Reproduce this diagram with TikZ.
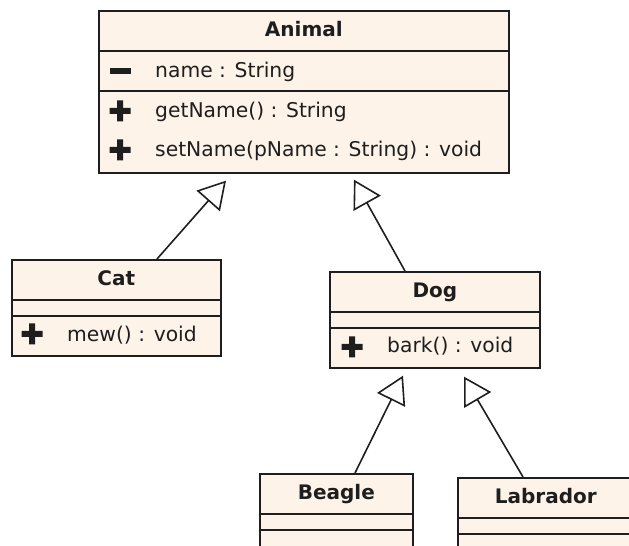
\documentclass[tikz,border=0pt]{standalone}
\usepackage{fontspec}
\setmainfont{DejaVu Sans}
\usetikzlibrary{arrows.meta}

\definecolor{classfill}{RGB}{253,243,233}
\definecolor{classline}{RGB}{30,30,30}

\begin{document}
\begin{tikzpicture}[x=1pt, y=1pt,
    umlclass/.style={draw=classline, fill=classfill, line width=1.7pt, anchor=north west, inner sep=0pt},
    classname/.style={font=\fontsize{20}{24}\selectfont\bfseries, text=classline, anchor=base, inner sep=0pt},
    member/.style={font=\fontsize{20.3}{24}\selectfont, text=classline, anchor=base west, inner sep=0pt},
    divider/.style={draw=classline, line width=1.5pt},
    inherit/.style={draw=classline, line width=1.6pt, -{Triangle[open, length=27pt, width=31pt]}},
    pubmark/.pic={\fill[classline] (-10.5,-3) rectangle (10.5,3) (-3,-10.5) rectangle (3,10.5);},
    privmark/.pic={\fill[classline] (-10.5,-3) rectangle (10.5,3);}
  ]
  \useasboundingbox (0,0) rectangle (629,546);
  \clip (0,0) rectangle (629,546);

  % classes
  \node[umlclass, minimum width=410pt, minimum height=162pt] (animal) at (98,536) {};
  \node[umlclass, minimum width=209pt, minimum height=96pt] (cat) at (11,287) {};
  \node[umlclass, minimum width=210pt, minimum height=96pt] (dog) at (329,275) {};
  \node[umlclass, minimum width=153pt, minimum height=96pt] (beagle) at (259,73) {};
  \node[umlclass, minimum width=176pt, minimum height=96pt] (labrador) at (457,69) {};

  \draw[divider] ([yshift=-41pt]animal.north west) -- ([yshift=-41pt]animal.north east);
  \draw[divider] ([yshift=-81pt]animal.north west) -- ([yshift=-81pt]animal.north east);
  \foreach \cls in {cat,dog,beagle,labrador} {
    \draw[divider] ([yshift=-41pt]\cls.north west) -- ([yshift=-41pt]\cls.north east);
    \draw[divider] ([yshift=-57pt]\cls.north west) -- ([yshift=-57pt]\cls.north east);
  }

  % names
  \node[classname] (animal-title) at ([yshift=-27pt]animal.north) {Animal};
  \node[classname] (cat-title) at ([yshift=-27pt]cat.north) {Cat};
  \node[classname] (dog-title) at ([yshift=-27pt]dog.north) {Dog};
  \node[classname] (beagle-title) at ([yshift=-27pt]beagle.north) {Beagle};
  \node[classname] (labrador-title) at ([yshift=-27pt]labrador.north) {Labrador};

  % members
  \pic at ([xshift=22pt, yshift=-61pt]animal.north west) {privmark};
  \pic at ([xshift=22pt, yshift=-101pt]animal.north west) {pubmark};
  \pic at ([xshift=22pt, yshift=-140pt]animal.north west) {pubmark};
  \node[member] (animal-name) at ([xshift=57pt, yshift=-68pt]animal.north west) {name : String};
  \node[member] (animal-get) at ([xshift=57pt, yshift=-108pt]animal.north west) {getName() : String};
  \node[member] (animal-set) at ([xshift=57pt, yshift=-147pt]animal.north west) {setName(pName : String) : void};

  \pic at ([xshift=21pt, yshift=-75pt]cat.north west) {pubmark};
  \node[member] (cat-mew) at ([xshift=56pt, yshift=-83pt]cat.north west) {mew() : void};
  \pic at ([xshift=23pt, yshift=-76pt]dog.north west) {pubmark};
  \node[member] (dog-bark) at ([xshift=58pt, yshift=-82pt]dog.north west) {bark() : void};

  % generalizations
  \draw[inherit] ([xshift=146pt]cat.north west) -- ([xshift=128pt, yshift=-7pt]animal.south west);
  \draw[inherit] ([xshift=76pt]dog.north west) -- ([xshift=256pt, yshift=-6pt]animal.south west);
  \draw[inherit] ([xshift=96pt]beagle.north west) -- ([xshift=74pt, yshift=-7pt]dog.south west);
  \draw[inherit] ([xshift=66pt]labrador.north west) -- ([xshift=135pt, yshift=-8pt]dog.south west);
\end{tikzpicture}
\end{document}
